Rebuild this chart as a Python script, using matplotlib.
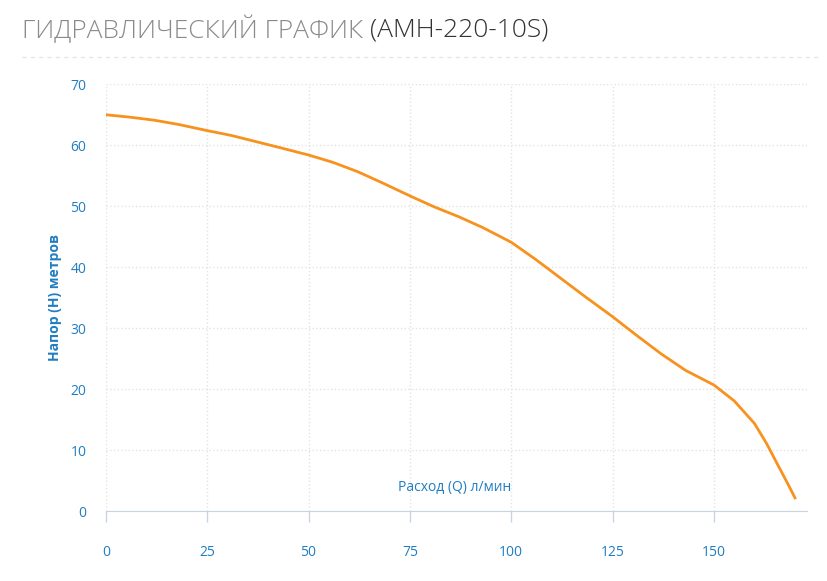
import matplotlib
matplotlib.use("Agg")
import matplotlib.pyplot as plt

flow = [0, 6, 12, 18, 25, 31, 37, 43, 50, 56, 62, 68, 75, 81, 87, 93, 100, 106, 112, 118, 125, 131, 137, 143, 150, 155, 160, 163, 166, 168, 170]
head = [65, 64.6, 64.1, 63.4, 62.4, 61.6, 60.6, 59.6, 58.4, 57.2, 55.7, 53.9, 51.7, 49.9, 48.3, 46.5, 44.1, 41.3, 38.3, 35.3, 31.9, 28.8, 25.8, 23.1, 20.7, 18.1, 14.4, 11.1, 7.3, 4.8, 2.2]
xticks = [0, 25, 50, 75, 100, 125, 150]
yticks = [0, 10, 20, 30, 40, 50, 60, 70]

plt.rcParams['font.family'] = ['Open Sans', 'DejaVu Sans']
fig = plt.figure(figsize=(8.27, 5.81), dpi=100)
ax = fig.add_axes([0.128, 0.120, 0.848, 0.735])
ax.plot(flow, head, color='#f7921e', lw=2)
ax.set_xlim(0, 173)
ax.set_ylim(0, 70)
ax.set_xticks(xticks)
ax.set_yticks(yticks)
blue = '#1f7dc1'
ax.tick_params(axis='x', colors='#c9d3e6', labelcolor=blue, length=8, width=1, pad=16, labelsize=10)
ax.tick_params(axis='y', length=0, labelcolor=blue, pad=14, labelsize=10)
for s in ['top', 'right', 'left']:
    ax.spines[s].set_visible(False)
ax.spines['bottom'].set_color('#c9d3e6')
ax.grid(True, color='#e3e3e3', ls=':', lw=1)
ax.set_axisbelow(True)
ax.set_ylabel('Напор (H) метров', color=blue, fontsize=10, fontweight='bold', labelpad=6)
ax.text(86, 2.6, 'Расход (Q) л/мин', color=blue, fontsize=10, ha='center', va='bottom')
t1 = fig.text(0.026, 0.948, 'ГИДРАВЛИЧЕСКИЙ ГРАФИК ', fontsize=19, color='#8a8a8a', va='center', fontweight='light')
fig.canvas.draw()
bb = t1.get_window_extent()
fig.text(bb.x1 / fig.bbox.width, 0.948, '(AMH-220-10S)', fontsize=19, color='#333333', va='center', fontweight='light')
fig.add_artist(plt.Line2D([0.026, 0.99], [0.902, 0.902], color='#e6e6e6', ls=(0, (3, 3)), lw=1))
fig.savefig('out.png', dpi=100)
